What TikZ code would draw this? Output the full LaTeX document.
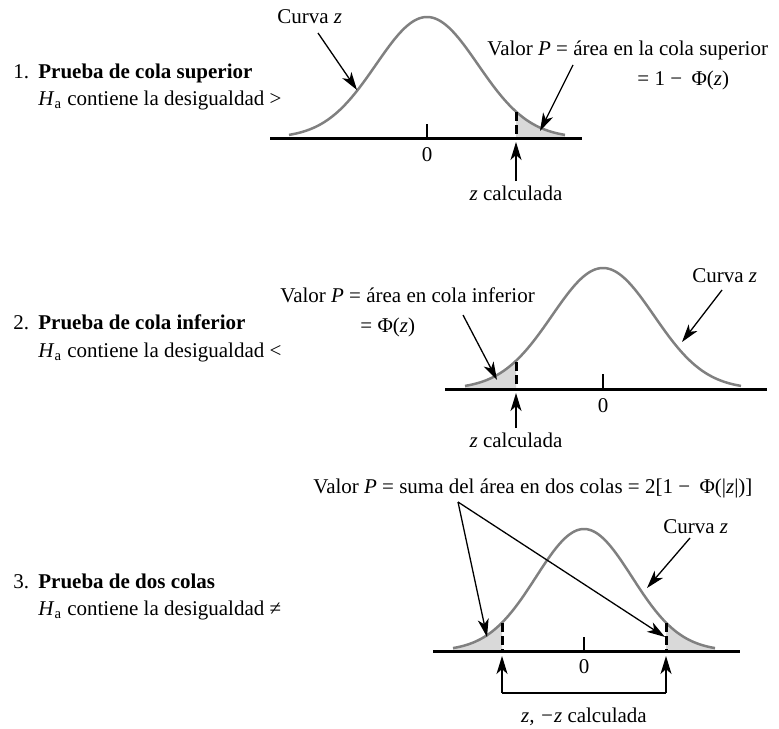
\documentclass[tikz,border=0pt]{standalone}
\usepackage{fontspec}
\setmainfont{Liberation Serif}
\usetikzlibrary{arrows.meta}
\definecolor{curvegray}{gray}{0.5}
\definecolor{tailgray}{gray}{0.85}
\begin{document}
\begin{tikzpicture}[x=0.5pt,y=-0.5pt,
  every node/.style={inner sep=0pt, font=\fontsize{10.5}{12.6}\selectfont},
  lbl/.style={anchor=base west},
  clbl/.style={anchor=base},
  axisline/.style={line width=1.5pt},
  curveline/.style={line width=1.25pt, draw=curvegray},
  tailfill/.style={fill=tailgray},
  zerotick/.style={line width=0.7pt},
  cutline/.style={line width=1.5pt, dash pattern=on 4.5pt off 2pt},
  pointer/.style={line width=0.65pt, -{Stealth[length=9pt,width=5.5pt,inset=2.5pt]}},
  bracketline/.style={line width=0.65pt},
]
\useasboundingbox (0,0) rectangle (779,728);

% ---------------- Panel 1 ----------------
\node[lbl] (n1) at (13,78) {1.};
\node[lbl] (t1) at (38,78) {\textbf{Prueba de cola superior}};
\node[lbl] (h1) at (38,105) {\textit{H}\textsubscript{a} contiene la desigualdad >};

\coordinate (a1l) at (270,138);
\coordinate (a1r) at (582,138);
\fill[tailfill] (516,138) -- plot[domain=89:138,samples=40] ({427+\x},{138-121*exp(-0.5*(\x/51)^2)}) -- (565,138) -- cycle;
\draw[axisline] (a1l) -- (a1r);
\draw[curveline] plot[domain=-138:138,samples=120] ({427+\x},{138-121*exp(-0.5*(\x/51)^2)});
\coordinate (tk1a) at (427,124);
\coordinate (tk1b) at (427,138);
\draw[zerotick] (tk1a) -- (tk1b);
\node[clbl] (zero1) at (427,161) {0};
\coordinate (cut1a) at (516,112);
\coordinate (cut1b) at (516,138);
\draw[cutline] (cut1a) -- (cut1b);
\node[clbl] (zc1) at (516,200) {\textit{z} calculada};
\coordinate (zc1s) at (516,181);
\coordinate (zc1t) at (516,142);
\draw[pointer] (zc1s) -- (zc1t);

\node[lbl] (cz1) at (277,23) {Curva \textit{z}};
\coordinate (cz1s) at (318,33);
\coordinate (cz1t) at (357,90);
\draw[pointer] (cz1s) -- (cz1t);

\node[lbl] (vp1) at (487,55) {Valor \textit{P} = área en la cola superior};
\node[lbl] (vp1b) at (637,85) {= 1 −\hspace{0.45em}Φ(\textit{z})};
\coordinate (vp1s) at (573,65);
\coordinate (vp1t) at (540,131);
\draw[pointer] (vp1s) -- (vp1t);

% ---------------- Panel 2 ----------------
\node[lbl] (n2) at (13,329) {2.};
\node[lbl] (t2) at (38,329) {\textbf{Prueba de cola inferior}};
\node[lbl] (h2) at (38,357) {\textit{H}\textsubscript{a} contiene la desigualdad <};

\coordinate (a2l) at (445,389);
\coordinate (a2r) at (767,389);
\fill[tailfill] (516,389) -- plot[domain=-87:-138,samples=40] ({603+\x},{389-121*exp(-0.5*(\x/51)^2)}) -- (465,389) -- cycle;
\draw[axisline] (a2l) -- (a2r);
\draw[curveline] plot[domain=-138:138,samples=120] ({603+\x},{389-121*exp(-0.5*(\x/51)^2)});
\coordinate (tk2a) at (603,374);
\coordinate (tk2b) at (603,389);
\draw[zerotick] (tk2a) -- (tk2b);
\node[clbl] (zero2) at (603,412) {0};
\coordinate (cut2a) at (516,362);
\coordinate (cut2b) at (516,389);
\draw[cutline] (cut2a) -- (cut2b);
\node[clbl] (zc2) at (516,447) {\textit{z} calculada};
\coordinate (zc2s) at (516,428);
\coordinate (zc2t) at (516,393);
\draw[pointer] (zc2s) -- (zc2t);

\node[lbl] (vp2) at (280,302) {Valor \textit{P} = área en cola inferior};
\node[lbl] (vp2b) at (360,332) {= Φ(\textit{z})};
\coordinate (vp2s) at (463,315);
\coordinate (vp2t) at (497,380);
\draw[pointer] (vp2s) -- (vp2t);

\node[lbl] (cz2) at (692,282) {Curva \textit{z}};
\coordinate (cz2s) at (722,290);
\coordinate (cz2t) at (682,342);
\draw[pointer] (cz2s) -- (cz2t);

% ---------------- Panel 3 ----------------
\node[lbl] (n3) at (13,588) {3.};
\node[lbl] (t3) at (38,588) {\textbf{Prueba de dos colas}};
\node[lbl] (h3) at (38,615) {\textit{H}\textsubscript{a} contiene la desigualdad ≠};

\coordinate (a3l) at (433,651);
\coordinate (a3r) at (740,651);
\fill[tailfill] (502,651) -- plot[domain=-82:-131,samples=40] ({584+\x},{651-122*exp(-0.5*(\x/48)^2)}) -- (453,651) -- cycle;
\fill[tailfill] (666,651) -- plot[domain=82:131,samples=40] ({584+\x},{651-122*exp(-0.5*(\x/48)^2)}) -- (715,651) -- cycle;
\draw[axisline] (a3l) -- (a3r);
\draw[curveline] plot[domain=-131:131,samples=120] ({584+\x},{651-122*exp(-0.5*(\x/48)^2)});
\coordinate (tk3a) at (584,637);
\coordinate (tk3b) at (584,651);
\draw[zerotick] (tk3a) -- (tk3b);
\node[clbl] (zero3) at (584,673) {0};
\coordinate (cut3a) at (502,623);
\coordinate (cut3b) at (502,651);
\coordinate (cut3c) at (666,623);
\coordinate (cut3d) at (666,651);
\draw[cutline] (cut3a) -- (cut3b);
\draw[cutline] (cut3c) -- (cut3d);

\coordinate (br1) at (502,693);
\coordinate (br2) at (666,693);
\coordinate (br1t) at (502,656);
\coordinate (br2t) at (666,656);
\draw[bracketline] (br1) -- (br2);
\draw[pointer] (br1) -- (br1t);
\draw[pointer] (br2) -- (br2t);
\node[clbl] (zc3) at (584,722) {\textit{z, −z} calculada};

\node[lbl] (vp3) at (313,493) {Valor \textit{P} = suma del área en dos colas = 2[1 −\hspace{0.45em}Φ(|\textit{z}|)]};
\coordinate (vp3s) at (458,502);
\coordinate (vp3t1) at (487,637);
\coordinate (vp3t2) at (665,637);
\draw[pointer] (vp3s) -- (vp3t1);
\draw[pointer] (vp3s) -- (vp3t2);

\node[lbl] (cz3) at (663,533) {Curva \textit{z}};
\coordinate (cz3s) at (690,538);
\coordinate (cz3t) at (647,588);
\draw[pointer] (cz3s) -- (cz3t);
\end{tikzpicture}
\end{document}
